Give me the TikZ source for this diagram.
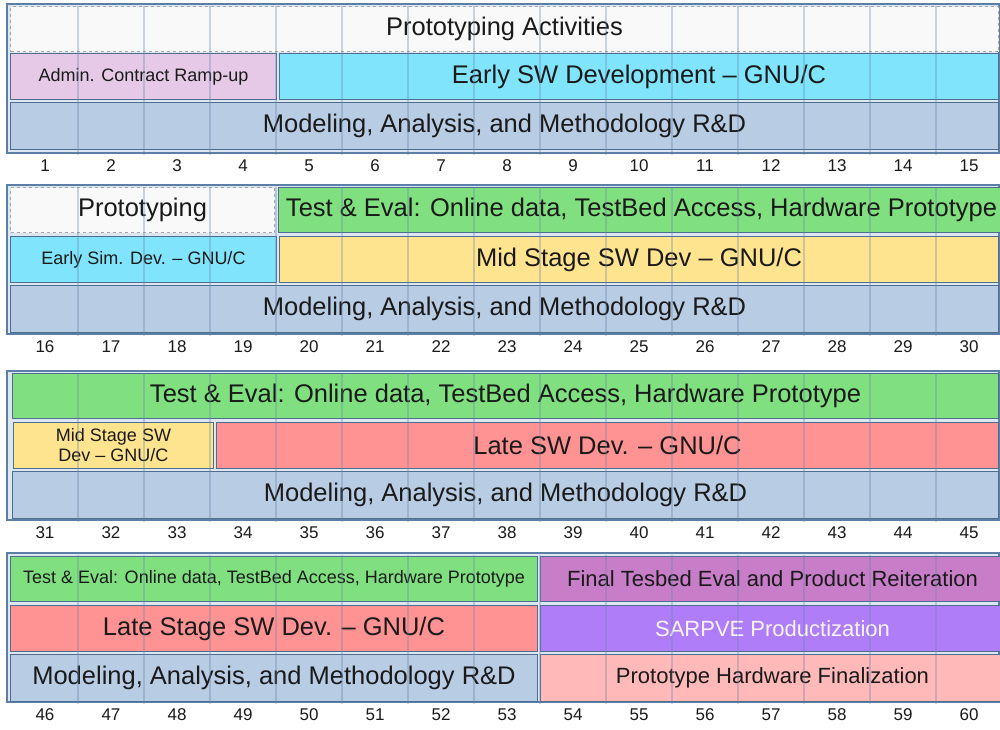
\documentclass[tikz,border=0pt]{standalone}
\usepackage{fontspec}
\setmainfont{Liberation Sans}
\definecolor{framefill}{HTML}{DCE7F2}
\definecolor{frameline}{HTML}{5B7FA6}
\definecolor{cellline}{HTML}{4F6D8F}
\definecolor{actfill}{HTML}{F9F9F9}
\definecolor{adminfill}{HTML}{E5C9E6}
\definecolor{cyanfill}{HTML}{80E5FC}
\definecolor{modfill}{HTML}{B8CCE4}
\definecolor{greenfill}{HTML}{80E080}
\definecolor{yellowfill}{HTML}{FFE48F}
\definecolor{redfill}{HTML}{FF9393}
\definecolor{orchidfill}{HTML}{C87DC8}
\definecolor{purplefill}{HTML}{B07DF8}
\definecolor{pinkfill}{HTML}{FFB9B9}
\definecolor{gridline}{HTML}{6585A8}
\definecolor{textcol}{HTML}{1A1A1A}
\begin{document}
\begin{tikzpicture}[x=1pt, y=-1pt,
    frame/.style={fill=framefill, draw=frameline, line width=1.5pt},
    cell/.style={draw=cellline, line width=1pt, anchor=north west, inner sep=0pt,
        text=textcol, font=\fontsize{25.5}{30}\selectfont},
    dashcell/.style={cell, fill=actfill, draw=gray!70, dashed},
    small/.style={font=\fontsize{18}{20}\selectfont},
    mid/.style={font=\fontsize{22}{26}\selectfont},
    num/.style={font=\fontsize{17}{20}\selectfont, text=textcol},
    grid/.style={draw=gridline, line width=2.5pt, opacity=0.33}]
    \useasboundingbox (0,0) rectangle (1000,729);
    \clip (0,0) rectangle (1000,729);
    % frames
    \foreach \y in {4,185,371,553}
        \draw[frame] (7,\y) rectangle (999,\y+149);
    % block 1
    \node[dashcell, minimum width=988pt, minimum height=45pt] (act) at (10,6) {Prototyping Activities};
    \node[cell, small, fill=adminfill, minimum width=266pt, minimum height=46pt] (admin) at (10,53) {Admin. Contract Ramp-up};
    \node[cell, fill=cyanfill, minimum width=719pt, minimum height=46pt] (earlysw) at (279,53) {Early SW Development -- GNU/C};
    \node[cell, fill=modfill, minimum width=988pt, minimum height=47pt] (mod1) at (10,102) {Modeling, Analysis, and Methodology R\&D};
    % block 2
    \node[dashcell, minimum width=264pt, minimum height=45pt] (proto) at (10,187) {Prototyping};
    \node[cell, fill=greenfill, minimum width=726pt, minimum height=45pt] (test2) at (278,187)
        {\makebox[0pt][c]{Test \& Eval: Online data, TestBed Access, Hardware Prototype}};
    \node[cell, small, fill=cyanfill, minimum width=266pt, minimum height=46pt] (earlysim) at (10,236) {Early Sim. Dev. -- GNU/C};
    \node[cell, fill=yellowfill, minimum width=719pt, minimum height=46pt] (midsw) at (279,236) {Mid Stage SW Dev -- GNU/C};
    \node[cell, fill=modfill, minimum width=988pt, minimum height=47pt] (mod2) at (10,285) {Modeling, Analysis, and Methodology R\&D};
    % block 3
    \node[cell, fill=greenfill, minimum width=986pt, minimum height=45pt] (test3) at (12,373) {Test \& Eval: Online data, TestBed Access, Hardware Prototype};
    \node[cell, small, fill=yellowfill, minimum width=200pt, minimum height=46pt, align=center] (midsw3) at (13,422) {Mid Stage SW\\Dev -- GNU/C};
    \node[cell, fill=redfill, minimum width=782pt, minimum height=46pt] (latesw) at (216,422) {Late SW Dev. -- GNU/C};
    \node[cell, fill=modfill, minimum width=986pt, minimum height=47pt] (mod3) at (12,471) {Modeling, Analysis, and Methodology R\&D};
    % block 4
    \node[cell, small, fill=greenfill, minimum width=527pt, minimum height=45pt] (test4) at (10,556) {Test \& Eval: Online data, TestBed Access, Hardware Prototype};
    \node[cell, mid, fill=orchidfill, minimum width=464pt, minimum height=45pt] (final) at (540,556) {Final Tesbed Eval and Product Reiteration};
    \node[cell, fill=redfill, minimum width=527pt, minimum height=46pt] (latestage) at (10,605) {Late Stage SW Dev. -- GNU/C};
    \node[cell, mid, fill=purplefill, text=white!92!purplefill, minimum width=464pt, minimum height=46pt] (sarpve) at (540,605) {SARPVE Productization};
    \node[cell, fill=modfill, minimum width=527pt, minimum height=47pt] (mod4) at (10,654) {Modeling, Analysis, and Methodology R\&D};
    \node[cell, mid, fill=pinkfill, minimum width=464pt, minimum height=47pt] (hwfinal) at (540,654) {Prototype Hardware Finalization};
    % column grid and numbers
    \foreach \b/\y in {0/4,1/185,2/371,3/553} {
        \foreach \k in {1,...,14}
            \draw[grid] ({12+66*\k},\y+2) -- ({12+66*\k},\y+151);
        \foreach \i in {1,...,15} {
            \pgfmathtruncatemacro{\n}{15*\b+\i}
            \node[num] (n\n) at ({66*\i-21},\y+162) {\n};
        }
    }
\end{tikzpicture}
\end{document}
